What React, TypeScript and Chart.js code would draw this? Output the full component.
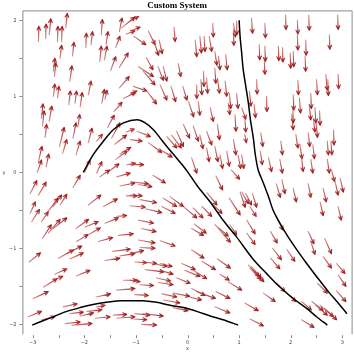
import React, { useEffect, useRef } from "react";
import { Chart, registerables } from "chart.js";

Chart.register(...registerables);

const titleText = "Custom System";
const xTicks = [-3, -2, -1, 0, 1, 2, 3];
const yTicks = [-2, -1, 0, 1, 2];
const xMinorTicks = [-3, -2.5, -2, -1.5, -1, -0.5, 0, 0.5, 1, 1.5, 2, 2.5, 3];
const yMinorTicks = [-2, -1.5, -1, -0.5, 0, 0.5, 1, 1.5, 2];

// Black trajectories
const curveLowX = [-3.01, -2.79, -2.6, -2.34, -2.08, -1.83, -1.57, -1.31, -1.02, -0.86, -0.6, -0.34, -0.08, 0.18, 0.44, 0.69, 0.98];
const curveLowY = [-2.01, -1.95, -1.9, -1.83, -1.78, -1.74, -1.71, -1.69, -1.69, -1.69, -1.71, -1.75, -1.78, -1.83, -1.89, -1.94, -2.01];
const curveMidX = [-2.02, -1.83, -1.63, -1.44, -1.24, -0.98, -0.82, -0.66, -0.53, -0.4, -0.24, -0.08, 0.02, 0.18, 0.44, 0.69, 0.95, 1.28, 1.53, 1.79, 2.05, 2.31, 2.5, 2.71];
const curveMidY = [0.0, 0.23, 0.41, 0.56, 0.65, 0.69, 0.65, 0.56, 0.45, 0.34, 0.21, 0.08, -0.01, -0.17, -0.39, -0.63, -0.85, -1.15, -1.33, -1.51, -1.66, -1.79, -1.9, -2.01];
const curveHighX = [1.0, 1.02, 1.05, 1.08, 1.13, 1.18, 1.22, 1.28, 1.31, 1.37, 1.47, 1.57, 1.66, 1.79, 1.95, 2.12, 2.31, 2.5, 2.73, 2.92, 3.09];
const curveHighY = [2.0, 1.78, 1.57, 1.35, 1.13, 0.91, 0.69, 0.43, 0.25, 0.03, -0.14, -0.32, -0.5, -0.67, -0.85, -1.02, -1.2, -1.37, -1.57, -1.72, -1.86];

// Arrows: [x, y, u, v] (tail position and vector, data units)
const arrowsTopLeft = [
  [-2.89, 1.72, 0.01, 0.2], [-2.75, 1.76, 0.01, 0.19], [-2.68, 1.81, 0.03, 0.21], [-2.52, 1.72, 0.01, 0.2],
  [-2.44, 1.72, 0.01, 0.2], [-2.36, 1.9, 0.03, 0.19], [-1.97, 1.64, 0.01, 0.19], [-1.87, 1.68, 0.03, 0.17],
  [-1.67, 1.81, 0.02, 0.2], [-1.58, 1.68, 0.04, 0.17], [-1.32, 1.85, 0.05, 0.18], [-1.28, 1.9, 0.26, 0.14],
  [-1.19, 1.82, 0.17, 0.04], [-2.47, 1.5, 0.03, 0.17], [-2.23, 1.53, 0.03, 0.18], [-2.6, 1.33, 0.03, 0.17],
  [-2.58, 1.26, 0.03, 0.18], [-2.28, 1.2, 0.04, 0.2], [-1.7, 1.46, 0.03, 0.2], [-1.61, 1.48, 0.05, 0.18],
  [-1.49, 1.34, 0.1, 0.18], [-1.32, 1.38, 0.17, 0.19], [-1.39, 1.64, 0.08, 0.15], [-2.6, 1.0, 0.03, 0.16],
  [-2.52, 0.98, 0.03, 0.15], [-2.3, 0.89, 0.03, 0.18], [-2.18, 0.91, 0.03, 0.16], [-2.08, 0.86, 0.04, 0.19],
  [-1.92, 1.02, 0.05, 0.18], [-1.66, 0.91, 0.05, 0.18], [-1.6, 0.96, 0.04, 0.12], [-1.32, 1.11, 0.19, 0.15],
  [-1.42, 0.8, 0.15, 0.12], [-1.24, 0.97, 0.23, 0.08], [-2.83, 0.71, 0.03, 0.19], [-2.81, 0.61, 0.03, 0.2],
  [-2.76, 0.46, 0.03, 0.17], [-2.68, 0.67, 0.05, 0.2], [-2.48, 0.34, 0.09, 0.25], [-2.42, 0.25, 0.08, 0.18],
  [-2.22, 0.45, 0.06, 0.2], [-2.12, 0.61, 0.03, 0.15], [-2.16, 0.23, 0.08, 0.18], [-1.92, 0.39, 0.07, 0.19],
  [-1.76, 0.41, 0.11, 0.09], [-1.55, 0.59, 0.13, 0.16], [-1.47, 0.45, 0.16, 0.2], [-1.41, 0.37, 0.23, 0.12],
  [-1.19, 0.53, 0.16, 0.04], [-2.89, 0.14, 0.07, 0.2], [-2.91, 0.0, 0.08, 0.16], [-2.74, 0.07, 0.05, 0.17],
  [-1.99, 0.0, 0.1, 0.16], [-1.76, -0.01, 0.1, 0.15], [-1.55, 0.0, 0.22, 0.11], [-1.39, 0.17, 0.22, 0.11],
  [-1.18, 0.1, 0.17, 0.02], [-1.31, 0.24, 0.21, 0.09],
];

const arrowsBottomLeft = [
  [-3.05, -0.28, 0.13, 0.17], [-2.89, -0.3, 0.15, 0.17], [-2.22, -0.2, 0.14, 0.16], [-1.7, -0.06, 0.19, 0.09],
  [-1.37, -0.06, 0.26, 0.05], [-1.31, -0.18, 0.29, 0.04], [-3.05, -0.54, 0.1, 0.15], [-3.02, -0.65, 0.15, 0.16],
  [-2.83, -0.65, 0.13, 0.13], [-2.73, -0.54, 0.22, 0.2], [-2.6, -0.45, 0.16, 0.15], [-2.47, -0.43, 0.13, 0.14],
  [-1.92, -0.43, 0.24, 0.13], [-1.63, -0.45, 0.27, 0.1], [-1.19, -0.31, 0.21, 0.0], [-2.81, -0.87, 0.17, 0.18],
  [-2.7, -0.8, 0.23, 0.18], [-2.6, -0.74, 0.26, 0.14], [-2.16, -0.74, 0.24, 0.12], [-1.99, -0.72, 0.26, 0.07],
  [-2.15, -0.91, 0.22, 0.09], [-1.92, -0.82, 0.23, 0.09], [-1.73, -0.91, 0.28, 0.05], [-1.6, -0.67, 0.26, 0.07],
  [-1.37, -0.58, 0.19, 0.01], [-1.34, -0.83, 0.29, 0.02], [-3.07, -1.18, 0.22, 0.12], [-2.5, -1.13, 0.29, 0.11],
  [-2.34, -1.07, 0.29, 0.1], [-2.28, -1.14, 0.26, 0.08], [-1.45, -1.04, 0.34, 0.03], [-1.6, -1.16, 0.29, 0.03],
  [-1.31, -1.1, 0.29, 0.03], [-2.57, -1.34, 0.23, 0.07], [-2.79, -1.51, 0.26, 0.11], [-2.6, -1.42, 0.18, 0.05],
  [-2.15, -1.36, 0.26, 0.07], [-1.24, -1.42, 0.26, 0.0], [-2.99, -1.66, 0.29, 0.09], [-1.77, -1.64, 0.28, 0.04],
  [-1.37, -1.55, 0.35, 0.02], [-2.41, -1.77, 0.27, 0.04], [-3.09, -1.9, 0.26, 0.07], [-2.83, -1.94, 0.26, 0.04],
  [-2.28, -1.86, 0.26, 0.02], [-2.08, -1.89, 0.26, 0.04], [-2.37, -1.99, 0.29, 0.02], [-1.95, -1.83, 0.29, 0.02],
  [-1.79, -1.92, 0.29, 0.02], [-2.24, -2.01, 0.39, 0.02], [-1.44, -1.88, 0.26, 0.01], [-1.37, -1.92, 0.35, 0.02],
  [-1.76, -1.77, 0.16, 0.02],
];

const arrowsTopMiddle = [
  [-1.11, 1.86, 0.19, 0.05], [-1.11, 1.99, 0.16, 0.06], [-1.04, 1.79, 0.23, -0.11], [-0.76, 1.86, 0.13, -0.18],
  [-0.66, 1.74, 0.1, -0.2], [-0.55, 1.74, 0.06, -0.18], [-0.26, 1.91, 0.02, -0.19], [-0.8, 1.51, 0.13, -0.16],
  [-0.95, 1.39, 0.29, -0.13], [-0.86, 1.33, 0.23, -0.18], [-0.57, 1.39, 0.1, -0.18], [-0.47, 1.39, 0.07, -0.19],
  [-0.18, 1.43, 0.05, -0.17], [-1.05, 1.13, 0.26, -0.06], [-0.79, 1.07, 0.19, -0.17], [-0.53, 1.15, 0.13, -0.2],
  [-0.32, 1.13, 0.09, -0.2], [-0.09, 1.13, 0.08, -0.18], [-1.11, 1.03, 0.13, 0.04], [0.02, 0.93, 0.1, -0.2],
  [-0.98, 0.54, 0.26, -0.07], [-1.11, 0.43, 0.23, -0.02], [-0.76, 0.39, 0.26, -0.13], [-0.4, 0.47, 0.19, -0.15],
  [-0.31, 0.49, 0.19, -0.17], [-0.21, 0.54, 0.13, -0.2], [-0.53, 0.3, 0.23, -0.1], [-0.08, 0.63, 0.12, -0.18],
  [0.11, 0.61, 0.1, -0.2], [0.24, 0.49, 0.06, -0.18], [0.08, 0.19, 0.1, -0.2], [-1.11, 0.1, 0.26, 0.0],
  [0.37, 0.54, 0.1, -0.18], [0.44, 0.85, 0.06, -0.18], [0.21, 0.93, 0.03, -0.18], [0.15, 1.74, 0.03, -0.22],
  [0.24, 1.79, 0.03, -0.22], [0.32, 1.79, 0.02, -0.2], [0.42, 1.79, 0.05, -0.2], [0.49, 1.96, 0.01, -0.18],
  [0.53, 1.59, 0.04, -0.18], [0.6, 1.53, 0.03, -0.18], [0.74, 1.55, 0.03, -0.2], [0.89, 1.96, 0.04, -0.18],
  [0.95, 1.99, 0.01, -0.18], [0.89, 1.87, 0.01, -0.2], [0.18, 1.15, 0.0, -0.18], [0.26, 1.22, 0.02, -0.2],
  [0.31, 1.33, 0.01, -0.2], [0.37, 1.24, 0.02, -0.2], [0.53, 1.37, 0.02, -0.2], [0.58, 1.24, 0.04, -0.2],
  [0.73, 1.2, 0.03, -0.2], [0.81, 1.04, 0.03, -0.2], [0.95, 1.04, 0.03, -0.2], [0.58, 0.63, 0.04, -0.2],
  [0.92, 0.76, 0.02, -0.22], [0.79, 0.91, 0.03, -0.15], [0.37, 0.32, 0.05, -0.18], [0.53, 0.34, 0.06, -0.2],
  [0.63, 0.23, 0.05, -0.18], [0.76, 0.28, 0.05, -0.2], [0.89, 0.43, 0.05, -0.2], [0.98, 0.23, 0.05, -0.18],
];

const arrowsTopRight = [
  [1.24, 2.03, 0.02, -0.2], [1.5, 1.96, 0.01, -0.19], [1.9, 2.07, 0.01, -0.19], [2.13, 2.0, 0.01, -0.18],
  [2.35, 2.07, 0.01, -0.2], [2.91, 2.07, 0.01, -0.19], [1.39, 1.68, 0.01, -0.2], [1.5, 1.66, 0.01, -0.2],
  [1.49, 1.48, 0.01, -0.19], [1.76, 1.66, 0.01, -0.19], [1.84, 1.64, 0.01, -0.19], [1.99, 1.57, 0.01, -0.2],
  [2.05, 1.59, 0.01, -0.2], [2.13, 1.81, 0.01, -0.2], [2.29, 1.74, 0.01, -0.2], [2.28, 1.53, 0.01, -0.2],
  [2.75, 1.81, 0.01, -0.19], [1.34, 1.22, 0.01, -0.19], [1.2, 1.07, 0.03, -0.2], [1.53, 1.0, 0.01, -0.2],
  [1.29, 0.89, 0.03, -0.17], [2.14, 1.21, 0.01, -0.19], [2.5, 1.22, 0.02, -0.2], [2.68, 1.29, 0.03, -0.21],
  [2.72, 1.22, 0.01, -0.21], [2.92, 1.29, 0.01, -0.19], [2.05, 1.02, 0.01, -0.2], [2.17, 0.98, 0.02, -0.2],
  [2.39, 1.04, 0.01, -0.2], [2.36, 0.89, 0.03, -0.2], [2.04, 0.85, 0.01, -0.2], [2.47, 0.85, 0.02, -0.2],
  [2.56, 0.81, 0.01, -0.19], [2.44, 0.71, 0.03, -0.18], [2.49, 0.67, 0.03, -0.21], [2.02, 0.76, 0.03, -0.2],
  [2.83, 0.56, 0.01, -0.2], [1.42, 0.52, 0.04, -0.18], [1.81, 0.41, 0.03, -0.18], [2.1, 0.5, 0.04, -0.18],
  [2.18, 0.36, 0.04, -0.18], [2.34, 0.52, 0.03, -0.18], [2.43, 0.36, 0.03, -0.18], [2.71, 0.41, 0.02, -0.18],
  [2.78, 0.41, 0.02, -0.18], [1.41, 0.28, 0.04, -0.18], [1.57, 0.19, 0.06, -0.18], [1.79, 0.17, 0.05, -0.18],
  [2.21, 0.21, 0.03, -0.2], [2.39, 0.17, 0.04, -0.18], [2.71, 0.17, 0.04, -0.18], [1.05, 0.23, 0.04, -0.18],
  [1.05, 0.85, 0.08, -0.15], [1.11, 0.5, 0.03, -0.11], [1.11, 0.73, 0.02, -0.2],
];

const arrowsBottomMiddle = [
  [-0.67, -0.04, 0.24, -0.1], [-1.05, -0.13, 0.29, -0.02], [-0.95, -0.16, 0.26, -0.03], [-1.11, -0.3, 0.23, -0.01],
  [-1.11, -0.44, 0.29, -0.02], [-0.92, -0.36, 0.32, -0.04], [-0.82, -0.48, 0.32, -0.05], [-0.47, -0.34, 0.26, -0.11],
  [-0.34, -0.32, 0.26, -0.13], [-0.5, -0.45, 0.26, -0.09], [-0.08, -0.45, 0.26, -0.15], [0.11, -0.47, 0.19, -0.13],
  [0.28, -0.45, 0.19, -0.13], [0.55, -0.05, 0.13, -0.18], [0.38, -0.27, 0.19, -0.16], [0.44, -0.39, 0.23, -0.15],
  [0.81, -0.34, 0.21, -0.22], [1.02, -0.26, 0.1, -0.2], [0.85, 0.03, 0.16, -0.12], [-0.95, -0.63, 0.29, -0.04],
  [-0.89, -0.74, 0.28, -0.04], [0.08, -0.74, 0.23, -0.09], [0.13, -0.68, 0.23, -0.12], [0.53, -0.69, 0.26, -0.15],
  [0.6, -0.74, 0.23, -0.18], [0.82, -0.69, 0.13, -0.13], [-0.95, -0.89, 0.32, -0.04], [-0.92, -0.99, 0.29, -0.01],
  [-1.11, -1.07, 0.26, 0.04], [-0.53, -0.9, 0.29, -0.07], [0.08, -1.02, 0.24, -0.11], [0.28, -1.17, 0.26, -0.11],
  [0.58, -1.14, 0.25, -0.12], [0.63, -1.34, 0.18, -0.08], [0.79, -1.44, 0.26, -0.11], [-1.02, -1.18, 0.23, -0.01],
  [-0.86, -1.18, 0.26, -0.02], [-0.66, -1.2, 0.26, -0.04], [-0.53, -1.2, 0.23, -0.04], [-0.82, -1.28, 0.36, -0.03],
  [-0.53, -1.29, 0.25, -0.05], [-0.11, -1.2, 0.26, -0.08], [-0.05, -1.29, 0.29, -0.08], [0.11, -1.29, 0.26, -0.11],
  [-0.21, -1.39, 0.26, -0.07], [-0.6, -1.39, 0.27, -0.04], [-0.57, -1.45, 0.29, -0.03], [-1.11, -1.42, 0.19, -0.02],
  [-0.92, -1.48, 0.26, -0.01], [-1.02, -1.61, 0.26, -0.01], [-0.5, -1.6, 0.29, -0.04], [0.08, -1.53, 0.26, -0.09],
  [0.18, -1.57, 0.36, -0.09], [-0.02, -1.63, 0.29, -0.05], [0.55, -1.57, 0.27, -0.09], [0.53, -1.77, 0.29, -0.08],
  [-0.28, -1.59, 0.32, -0.04], [-0.28, -1.78, 0.29, -0.04], [-0.47, -1.68, 0.32, -0.04], [-1.02, -1.86, 0.29, -0.02],
  [-0.86, -1.86, 0.39, -0.03], [-1.05, -1.93, 0.26, -0.01], [-0.89, -2.0, 0.29, -0.01],
];

const arrowsBottomRight = [
  [2.79, 0.03, 0.06, -0.15], [2.96, -0.08, 0.06, -0.18], [2.86, -0.12, 0.06, -0.18], [1.72, -0.15, 0.08, -0.18],
  [1.83, -0.1, 0.06, -0.18], [2.05, -0.21, 0.06, -0.18], [2.34, -0.15, 0.05, -0.18], [2.63, -0.21, 0.06, -0.18],
  [2.57, -0.39, 0.06, -0.18], [2.92, -0.45, 0.06, -0.18], [1.05, -0.26, 0.13, -0.15], [1.13, -0.28, 0.11, -0.15],
  [1.26, -0.28, 0.08, -0.18], [1.21, -0.45, 0.12, -0.13], [1.15, -0.63, 0.16, -0.18], [1.15, -0.8, 0.16, -0.15],
  [1.72, -0.58, 0.13, -0.18], [1.61, -0.78, 0.13, -0.15], [1.65, -1.0, 0.17, -0.15], [1.61, -1.13, 0.18, -0.14],
  [1.93, -1.02, 0.15, -0.15], [2.34, -0.78, 0.11, -0.16], [2.39, -0.91, 0.08, -0.17], [2.66, -0.87, 0.13, -0.2],
  [2.63, -1.11, 0.16, -0.15], [2.89, -1.2, 0.16, -0.13], [2.92, -1.35, 0.15, -0.15], [2.89, -1.56, 0.18, -0.14],
  [2.52, -1.46, 0.19, -0.13], [2.41, -1.7, 0.22, -0.12], [2.49, -1.75, 0.22, -0.13], [2.57, -1.75, 0.26, -0.15],
  [2.66, -1.79, 0.23, -0.15], [2.21, -1.7, 0.19, -0.11], [2.21, -1.94, 0.24, -0.1], [1.21, -1.26, 0.21, -0.15],
  [1.24, -1.24, 0.19, -0.15], [1.18, -1.22, 0.21, -0.15], [1.28, -1.3, 0.2, -0.14], [1.47, -1.59, 0.23, -0.11],
  [1.11, -1.72, 0.26, -0.1], [1.21, -1.93, 0.26, -0.09], [1.92, -1.59, 0.18, -0.11], [1.73, -1.46, 0.16, -0.11],
];

const arrowGroups = [arrowsTopLeft, arrowsBottomLeft, arrowsTopMiddle, arrowsTopRight, arrowsBottomMiddle, arrowsBottomRight];

const toPoints = (xs: number[], ys: number[]) => xs.map((x, i) => ({ x, y: ys[i] }));

const arrowPlugin = {
  id: "arrowField",
  beforeDatasetsDraw(chart: any) {
    const ctx = chart.ctx;
    const sx = chart.scales.x;
    const sy = chart.scales.y;
    ctx.save();
    ctx.lineWidth = 1.15;
    ctx.lineCap = "round";
    ctx.lineJoin = "round";
    for (const group of arrowGroups) {
      for (const [x, y, u, v] of group) {
        const x0 = sx.getPixelForValue(x);
        const y0 = sy.getPixelForValue(y);
        const x1 = sx.getPixelForValue(x + u);
        const y1 = sy.getPixelForValue(y + v);
        const ang = Math.atan2(y1 - y0, x1 - x0);
        const g = ctx.createLinearGradient(x0, y0, x1, y1);
        g.addColorStop(0, "rgba(190,70,70,0.6)");
        g.addColorStop(1, "rgba(155,25,25,1)");
        ctx.strokeStyle = g;
        const h = 4.2;
        ctx.beginPath();
        ctx.moveTo(x0, y0);
        ctx.lineTo(x1, y1);
        ctx.moveTo(x1 - h * Math.cos(ang - 0.45), y1 - h * Math.sin(ang - 0.45));
        ctx.lineTo(x1, y1);
        ctx.lineTo(x1 - h * Math.cos(ang + 0.45), y1 - h * Math.sin(ang + 0.45));
        ctx.stroke();
      }
    }
    ctx.restore();
  },
};

const framePlugin = {
  id: "frameAxes",
  afterDraw(chart: any) {
    const ctx = chart.ctx;
    const { left, right, top, bottom } = chart.chartArea;
    const sx = chart.scales.x;
    const sy = chart.scales.y;
    ctx.save();
    ctx.strokeStyle = "#8a8a8a";
    ctx.lineWidth = 1;
    ctx.beginPath();
    ctx.moveTo(left + 0.5, bottom);
    ctx.lineTo(left + 0.5, top + 0.5);
    ctx.lineTo(right - 0.5, top + 0.5);
    ctx.lineTo(right - 0.5, bottom);
    ctx.stroke();
    ctx.beginPath();
    for (const t of xMinorTicks) {
      const px = Math.round(sx.getPixelForValue(t)) + 0.5;
      ctx.moveTo(px, bottom + 1);
      ctx.lineTo(px, bottom + 4);
    }
    for (const t of yMinorTicks) {
      const py = Math.round(sy.getPixelForValue(t)) + 0.5;
      ctx.moveTo(left - 3, py);
      ctx.lineTo(left, py);
    }
    ctx.stroke();
    ctx.fillStyle = "#444";
    ctx.font = "5px 'DejaVu Sans'";
    ctx.textAlign = "center";
    ctx.textBaseline = "middle";
    for (const t of xTicks) {
      ctx.fillText(t < 0 ? "\u2212" + Math.abs(t) : String(t), sx.getPixelForValue(t), bottom + 9);
    }
    ctx.textAlign = "right";
    for (const t of yTicks) {
      ctx.fillText(t < 0 ? "\u2212" + Math.abs(t) : String(t), left - 6, sy.getPixelForValue(t));
    }
    ctx.textAlign = "center";
    ctx.fillText("x", (left + right) / 2, bottom + 15);
    ctx.fillText("y", 4, (top + bottom) / 2);
    ctx.fillStyle = "#000";
    ctx.font = "bold 9px 'Liberation Serif'";
    ctx.fillText(titleText, chart.width / 2, 6);
    ctx.restore();
  },
};

export default function App() {
  const canvasRef = useRef<HTMLCanvasElement | null>(null);

  useEffect(() => {
    const canvas = canvasRef.current;
    if (!canvas) return;
    const lineStyle = {
      showLine: true,
      borderColor: "#000",
      borderWidth: 1.5,
      pointRadius: 0,
      tension: 0.3,
      fill: false,
    };
    const chart = new Chart(canvas, {
      type: "scatter",
      data: {
        datasets: [
          { ...lineStyle, data: toPoints(curveLowX, curveLowY) },
          { ...lineStyle, data: toPoints(curveMidX, curveMidY) },
          { ...lineStyle, data: toPoints(curveHighX, curveHighY) },
        ],
      },
      options: {
        responsive: false,
        devicePixelRatio: 1,
        animation: false,
        layout: { padding: { left: 22.4, right: 1.4, top: 10.4, bottom: 19.8 } },
        scales: {
          x: { type: "linear", min: -3.2, max: 3.2, display: false },
          y: { type: "linear", min: -2.13, max: 2.13, display: false },
        },
        plugins: {
          legend: { display: false },
          tooltip: { enabled: false },
          title: { display: false },
        },
      },
      plugins: [arrowPlugin, framePlugin],
    });
    return () => chart.destroy();
  }, []);

  return (
    <div style={{ position: "absolute", left: 0, top: 0, width: 354, height: 354, background: "#fff" }}>
      <canvas ref={canvasRef} width={354} height={354} style={{ display: "block" }} />
    </div>
  );
}
